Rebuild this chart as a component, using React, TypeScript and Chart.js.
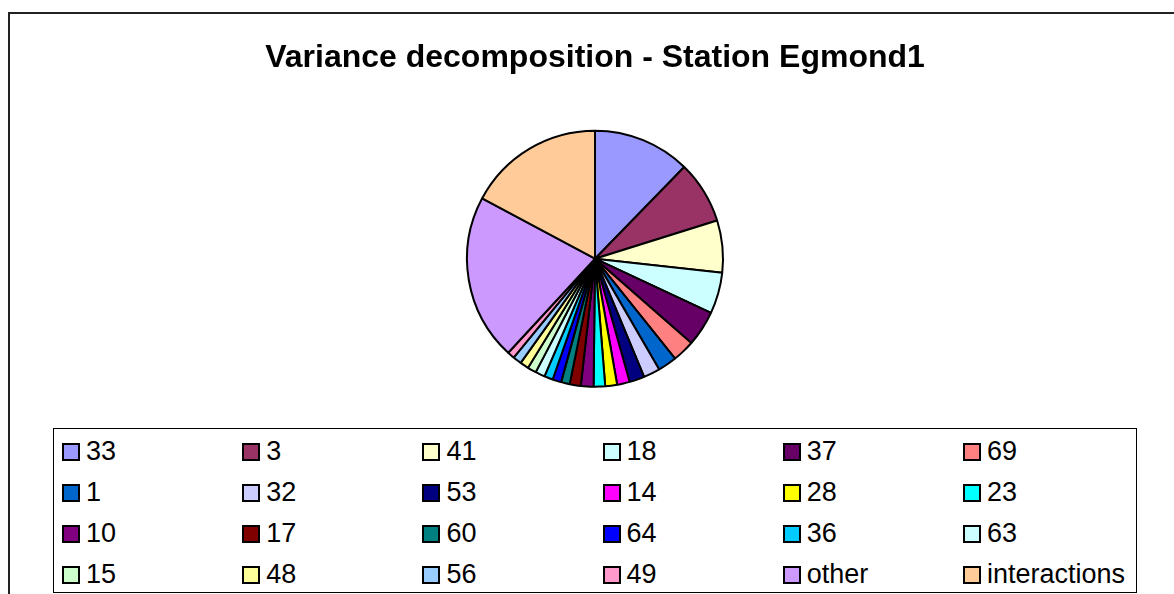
import React, { useEffect, useRef } from "react";
import { Chart, registerables } from "chart.js";

Chart.register(...registerables);

const TITLE = "Variance decomposition - Station Egmond1";

const labels = [
  "33", "3", "41", "18", "37", "69",
  "1", "32", "53", "14", "28", "23",
  "10", "17", "60", "64", "36", "63",
  "15", "48", "56", "49", "other", "interactions",
];

const values = [
  12.3, 7.9, 6.6, 5.2, 4.5, 2.8,
  2.4, 2.1, 1.9, 1.6, 1.5, 1.45,
  1.6, 1.4, 1.1, 1.1, 1.1, 1.2,
  1.1, 1.1, 1.1, 0.9, 21.0, 17.2,
];

const colors = [
  "#9999FF", "#993366", "#FFFFCC", "#CCFFFF", "#660066", "#FF8080",
  "#0066CC", "#CCCCFF", "#000080", "#FF00FF", "#FFFF00", "#00FFFF",
  "#800080", "#800000", "#008080", "#0000FF", "#00CCFF", "#CCFFFF",
  "#CCFFCC", "#FFFF99", "#99CCFF", "#FF99CC", "#CC99FF", "#FFCC99",
];

const FONT = "'Liberation Sans', Arial, Helvetica, sans-serif";

export default function App() {
  const ref = useRef<HTMLCanvasElement | null>(null);

  useEffect(() => {
    if (!ref.current) return;
    const chart = new Chart(ref.current, {
      type: "pie",
      data: {
        labels,
        datasets: [
          {
            data: values,
            backgroundColor: colors,
            borderColor: "#000000",
            borderWidth: 2,
          },
        ],
      },
      options: {
        animation: false,
        responsive: false,
        maintainAspectRatio: false,
        radius: 128,
        layout: { padding: { left: 16, right: 0, top: 0, bottom: 33 } },
        plugins: {
          legend: { display: false },
          tooltip: { enabled: false },
          title: {
            display: true,
            text: TITLE,
            color: "#000000",
            font: { family: FONT, size: 32, weight: "bold" },
            padding: { top: 39, bottom: 53 },
          },
        },
      },
    });
    return () => chart.destroy();
  }, []);

  return (
    <div
      style={{
        position: "fixed",
        inset: 0,
        overflow: "hidden",
        background: "#ffffff",
        fontFamily: FONT,
      }}
    >
      <div
        style={{
          position: "absolute",
          left: 8,
          top: 12,
          width: 1300,
          height: 800,
          borderLeft: "2px solid #222",
          borderTop: "2px solid #222",
        }}
      />
      <canvas
        ref={ref}
        width={1174}
        height={420}
        style={{ position: "absolute", left: 0, top: 0, width: 1174, height: 420 }}
      />
      <div
        style={{
          position: "absolute",
          left: 53,
          top: 428,
          width: 1084,
          height: 165,
          boxSizing: "border-box",
          border: "1px solid #000",
          background: "#fff",
          display: "grid",
          gridTemplateColumns: "repeat(6, 180.2px)",
          gridAutoRows: "41px",
          paddingLeft: 8,
          paddingTop: 2,
        }}
      >
        {labels.map((l, i) => (
          <div key={l} style={{ display: "flex", alignItems: "center", height: 41 }}>
            <span
              style={{
                display: "inline-block",
                width: 18,
                height: 18,
                boxSizing: "border-box",
                border: "2px solid #000",
                background: colors[i],
                flex: "none",
              }}
            />
            <span style={{ marginLeft: 6, fontSize: 27, lineHeight: "41px", color: "#000" }}>{l}</span>
          </div>
        ))}
      </div>
    </div>
  );
}
